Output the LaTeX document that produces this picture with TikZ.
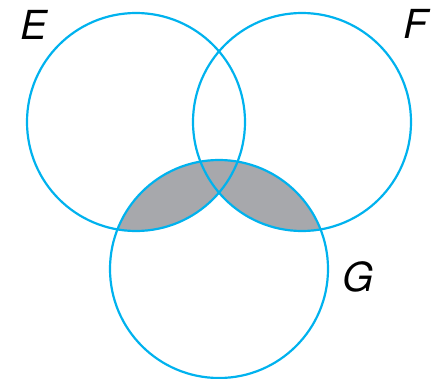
\documentclass[tikz,border=0pt]{standalone}
\usepackage{fontspec}
\setmainfont{TeX Gyre Heros}
\definecolor{venncyan}{RGB}{0,178,238}
\definecolor{venngray}{RGB}{167,168,172}
\tikzset{
  setline/.style={venncyan, line width=2.2pt},
  setlabel/.style={font=\fontsize{40}{42}\selectfont\itshape, inner sep=0pt}
}
\begin{document}
\begin{tikzpicture}[x=1pt, y=-1pt]
    \useasboundingbox (0,0) rectangle (431,378);
    \def\rad{109pt}
    \coordinate (cE) at (136,122);
    \coordinate (cF) at (302,122);
    \coordinate (cG) at (219,269);

    % (E or F) and G, shaded
    \begin{scope}
        \clip (cG) circle (\rad);
        \fill[venngray] (cE) circle (\rad);
        \fill[venngray] (cF) circle (\rad);
    \end{scope}

    % the three sets
    \draw[setline] (cE) circle (\rad);
    \draw[setline] (cF) circle (\rad);
    \draw[setline] (cG) circle (\rad);

    \node[setlabel] (labE) at (34,25) {E};
    \node[setlabel] (labF) at (416,24) {F};
    \node[setlabel] (labG) at (358,277) {G};
\end{tikzpicture}
\end{document}
